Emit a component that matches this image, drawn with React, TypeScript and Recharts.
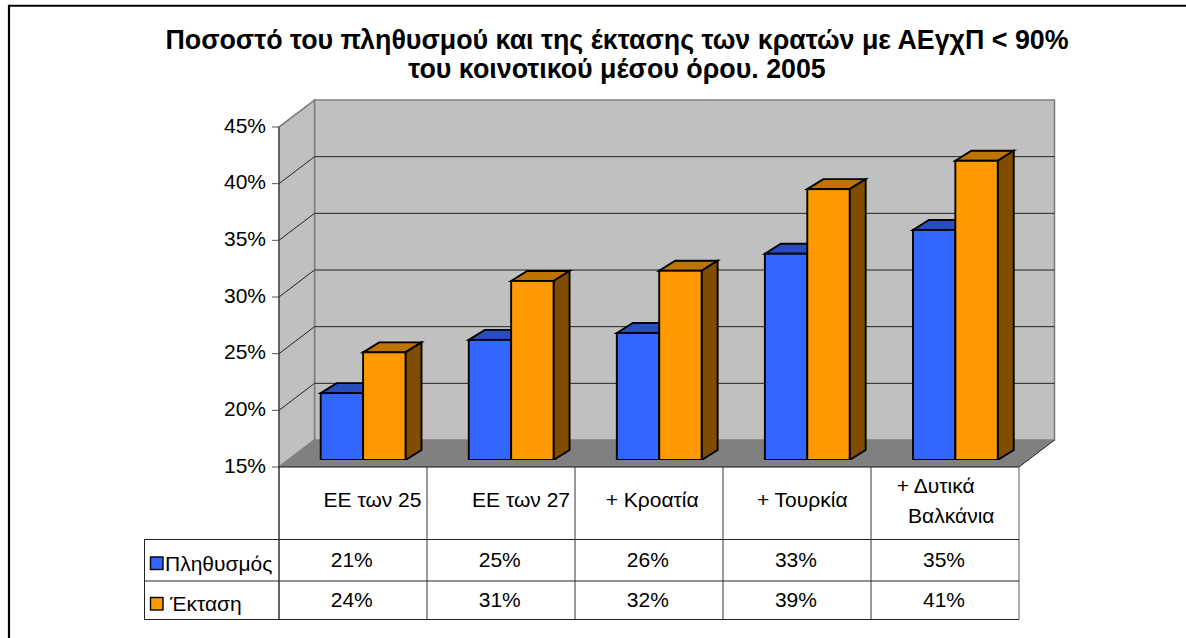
import React from "react";
import { BarChart, Bar, XAxis, YAxis, CartesianGrid } from "recharts";

const categories = ["ΕΕ των 25", "ΕΕ των 27", "+ Κροατία", "+ Τουρκία", "+ Δυτικά|Βαλκάνια"];
const populationValues = [20.9, 25.6, 26.2, 33.2, 35.3];
const areaValues = [24.5, 30.8, 31.7, 38.9, 41.4];
const populationLabels = ["21%", "25%", "26%", "33%", "35%"];
const areaLabels = ["24%", "31%", "32%", "39%", "41%"];
const yTicks = [15, 20, 25, 30, 35, 40, 45];
const titleLines = [
  "Ποσοστό του πληθυσμού και της έκτασης των κρατών με ΑΕγχΠ < 90%",
  "του κοινοτικού μέσου όρου. 2005",
];

const rows = categories.map((name, i) => ({
  name,
  population: populationValues[i],
  area: areaValues[i],
  populationLabel: populationLabels[i],
  areaLabel: areaLabels[i],
}));

const FONT = "'Liberation Sans', Arial, sans-serif";
const W = 1186;
const H = 638;
const PLOT_LEFT = 288.7;
const PLOT_RIGHT = 1029;
const PLOT_TOP = 120;
const PLOT_BOTTOM = 460;
const FRONT_DX = -9.7;
const FRONT_DY = 7;
const DEPTH_X = 35.5;
const DEPTH_Y = -27;
const FRONT_LEFT = 279;
const FRONT_RIGHT = 1019;
const FRONT_TOP = PLOT_TOP + FRONT_DY;
const FRONT_BOTTOM = PLOT_BOTTOM + FRONT_DY;
const COL = (FRONT_RIGHT - FRONT_LEFT) / 5;

const ROW1 = 539.5;
const ROW2 = 581;
const ROW3 = 619.5;
const TABLE_LEFT = 144.5;

const TEXT_SIZE = 21;
// horizontal shift of each category label inside its table cell
const LABEL_SHIFT = [[19.5], [20], [3], [5], [-9.5, 6]];

function pts(list: number[][]) {
  return list.map((p) => p.join(",")).join(" ");
}

const Bar3D = (props: any) => {
  const { x, y, width, height, fill, topFill, sideFill } = props;
  const dx = 16;
  const dy = -10;
  const r = x + width;
  const b = y + height;
  return (
    <g stroke="#000" strokeWidth={1.9} strokeLinejoin="miter">
      <polygon points={pts([[x, y], [x + dx, y + dy], [r + dx, y + dy], [r, y]])} fill={topFill} />
      <polygon points={pts([[r, y], [r + dx, y + dy], [r + dx, b + dy], [r, b]])} fill={sideFill} />
      <rect x={x} y={y} width={width} height={height} fill={fill} />
    </g>
  );
};

const YTick = (props: any) => {
  const { y, payload } = props;
  const fy = y + FRONT_DY;
  const bx = FRONT_LEFT + DEPTH_X;
  const by = fy + DEPTH_Y;
  const isBase = y >= PLOT_BOTTOM - 0.5;
  const isTop = y <= PLOT_TOP + 0.5;
  return (
    <g>
      {!isBase && !isTop && (
        <line x1={FRONT_LEFT} x2={bx} y1={fy} y2={by} stroke="#222" strokeWidth={1} />
      )}
      <line x1={FRONT_LEFT - 7} x2={FRONT_LEFT} y1={fy} y2={fy} stroke="#555" strokeWidth={1} />
      <text x={FRONT_LEFT - 13} y={fy + 5.5} textAnchor="end" fontFamily={FONT} fontSize={TEXT_SIZE} fill="#000">
        {payload.value}%
      </text>
    </g>
  );
};

const XTick = (props: any) => {
  const { x, index } = props;
  const row = rows[index];
  const cx = x + FRONT_DX;
  const parts = row.name.split("|");
  const rx = FRONT_LEFT + COL * index;
  const shift = LABEL_SHIFT[index];
  const text = (t: string, tx: number, ty: number) => (
    <text key={t} x={tx} y={ty} textAnchor="middle" fontFamily={FONT} fontSize={TEXT_SIZE} fill="#000">
      {t}
    </text>
  );
  return (
    <g>
      <line x1={rx} x2={rx} y1={FRONT_BOTTOM} y2={ROW3} stroke="#333" strokeWidth={1} />
      {parts.length === 1
        ? text(parts[0], cx + shift[0], 507)
        : [text(parts[0], cx + shift[0], 492.5), text(parts[1], cx + shift[1], 522.5)]}
      {text(row.populationLabel, cx - 1.3, 567)}
      {text(row.areaLabel, cx - 1.3, 607)}
    </g>
  );
};

const gridLine = (props: any) => {
  const { y1, index } = props;
  const isBase = y1 >= PLOT_BOTTOM - 0.5;
  const isTop = y1 <= PLOT_TOP + 0.5;
  const bx0 = FRONT_LEFT + DEPTH_X;
  const bx1 = FRONT_RIGHT + DEPTH_X;
  const by = y1 + FRONT_DY + DEPTH_Y;
  const byTop = FRONT_TOP + DEPTH_Y;
  const byBot = FRONT_BOTTOM + DEPTH_Y;
  return (
    <g key={index}>
      {index === 0 && (
        <>
          <polygon points={pts([[bx0, byTop], [bx1, byTop], [bx1, byBot], [bx0, byBot]])} fill="#c0c0c0" stroke="#808080" strokeWidth={1.6} />
          <polygon points={pts([[FRONT_LEFT, FRONT_TOP], [bx0, byTop], [bx0, byBot], [FRONT_LEFT, FRONT_BOTTOM]])} fill="#c0c0c0" stroke="#808080" strokeWidth={1.6} />
          <polygon points={pts([[FRONT_LEFT, FRONT_BOTTOM], [bx0, byBot], [bx1, byBot], [FRONT_RIGHT, FRONT_BOTTOM]])} fill="#808080" />
          <line x1={FRONT_RIGHT} x2={bx1} y1={FRONT_BOTTOM} y2={byBot} stroke="#222" strokeWidth={1} />
        </>
      )}
      {!isBase && !isTop && <line x1={bx0} x2={bx1} y1={by} y2={by} stroke="#222" strokeWidth={1} />}
    </g>
  );
};

export default function App() {
  return (
    <div style={{ position: "absolute", left: 0, top: 0, width: W, height: H, background: "#fff", overflow: "hidden" }}>
      <BarChart
        width={W}
        height={H}
        data={rows}
        barGap={0}
        barCategoryGap={0}
        margin={{ top: PLOT_TOP, bottom: H - PLOT_BOTTOM - 1, left: PLOT_LEFT - 1, right: W - PLOT_RIGHT }}
        style={{ position: "absolute", left: 0, top: 0 }}
      >
        <line x1={9} x2={9} y1={5} y2={H} stroke="#000" strokeWidth={2.2} />
        <line x1={8} x2={W} y1={5.7} y2={5.7} stroke="#000" strokeWidth={2} />
        {titleLines.map((t, i) => (
          <text key={i} x={617} y={49.3 + i * 29} textAnchor="middle" fontFamily={FONT} fontWeight="bold" fontSize={26.8} fill="#000">
            {t}
          </text>
        ))}
        <CartesianGrid vertical={false} horizontal={gridLine as any} stroke="#222" syncWithTicks />
        <YAxis
          domain={[15, 45]}
          ticks={yTicks}
          type="number"
          width={1}
          axisLine={false}
          tickLine={false}
          tick={<YTick />}
          interval={0}
          allowDataOverflow
        />
        <XAxis dataKey="name" height={1} axisLine={false} tickLine={false} tick={<XTick />} interval={0} />
        <Bar dataKey="population" barSize={42.4} isAnimationActive={false} fill="#3366ff" shape={<Bar3D topFill="#274dbf" sideFill="#1a3380" />} />
        <Bar dataKey="area" barSize={42.4} isAnimationActive={false} fill="#ff9900" shape={<Bar3D topFill="#bf7300" sideFill="#804d00" />} />
        <line x1={FRONT_LEFT} x2={FRONT_LEFT} y1={FRONT_TOP} y2={ROW3} stroke="#333" strokeWidth={1} />
        <line x1={FRONT_LEFT} x2={FRONT_RIGHT} y1={FRONT_BOTTOM} y2={FRONT_BOTTOM} stroke="#111" strokeWidth={1} />
        <line x1={FRONT_RIGHT} x2={FRONT_RIGHT} y1={FRONT_BOTTOM} y2={ROW3} stroke="#777" strokeWidth={1.2} />
        <line x1={TABLE_LEFT} x2={FRONT_RIGHT} y1={ROW1} y2={ROW1} stroke="#222" strokeWidth={1} />
        <line x1={TABLE_LEFT} x2={FRONT_RIGHT} y1={ROW2} y2={ROW2} stroke="#222" strokeWidth={1} />
        <line x1={TABLE_LEFT} x2={FRONT_RIGHT} y1={ROW3} y2={ROW3} stroke="#222" strokeWidth={1} />
        <line x1={TABLE_LEFT} x2={TABLE_LEFT} y1={ROW1} y2={ROW3} stroke="#222" strokeWidth={1} />
        <rect x={150.5} y={557} width={12.5} height={12.5} fill="#3366ff" stroke="#000" strokeWidth={1.4} />
        <rect x={150.5} y={597.5} width={12.5} height={12.5} fill="#ff9900" stroke="#000" strokeWidth={1.4} />
        <text x={165} y={571} fontFamily={FONT} fontSize={TEXT_SIZE} fill="#000">Πληθυσμός</text>
        <text x={170} y={611} fontFamily={FONT} fontSize={TEXT_SIZE} fill="#000">Έκταση</text>
      </BarChart>
    </div>
  );
}
